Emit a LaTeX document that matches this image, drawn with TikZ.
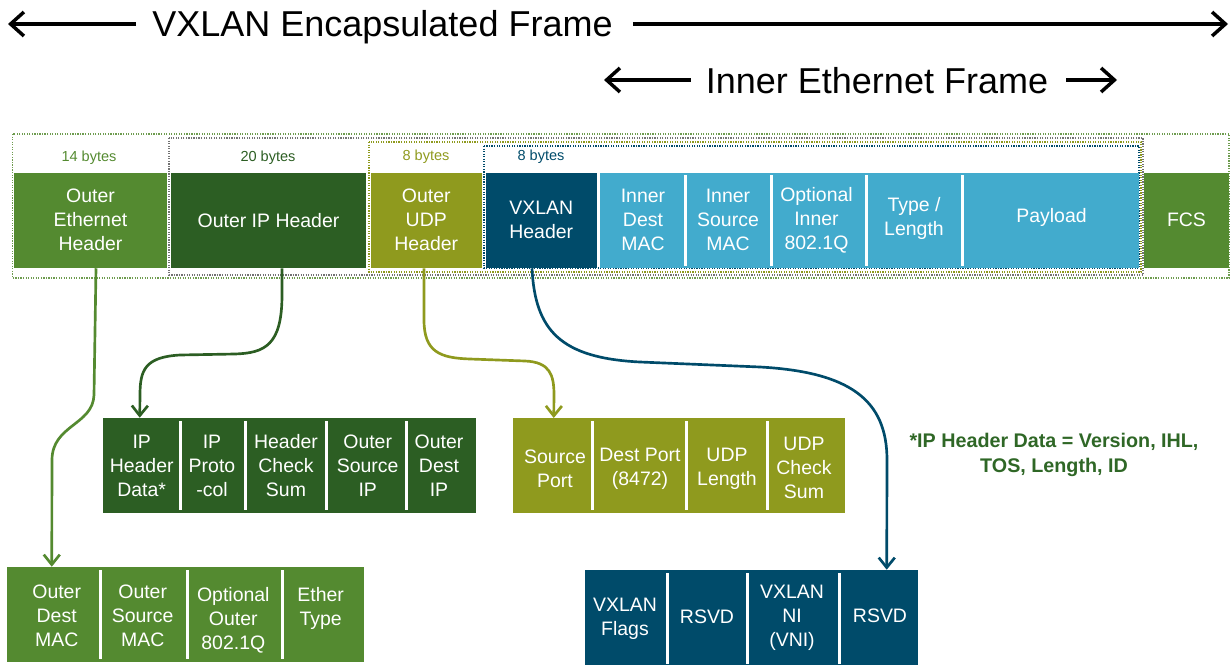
\documentclass[tikz,border=0pt]{standalone}
\usepackage{fontspec}
\setmainfont{Liberation Sans}
\usetikzlibrary{arrows.meta,calc}
\definecolor{ogreen}{RGB}{84,138,48}
\definecolor{dgreen}{RGB}{44,94,35}
\definecolor{olive}{RGB}{143,154,30}
\definecolor{dblue}{RGB}{0,75,106}
\definecolor{lblue}{RGB}{66,171,205}
\definecolor{fnote}{RGB}{47,103,38}
\begin{document}
\begin{tikzpicture}[x=0.75pt,y=-0.75pt,
  hdr/.style={inner sep=0, minimum height=71.6pt, text=white, font=\fontsize{14.6}{18}\selectfont, align=center},
  fld/.style={text=white, font=\fontsize{14.6}{18}\selectfont, align=center, inner sep=0},
  lbox/.style={inner sep=0, minimum height=71.25pt},
  sep/.style={white, line width=2.25pt},
  bytes/.style={font=\fontsize{10.9}{12}\selectfont, inner sep=0},
  frame/.style={densely dotted, line width=0.9pt},
  conn/.style={line width=2pt, -{Straight Barb[length=7.5pt,width=12pt]}},
  bigarrow/.style={line width=2.6pt, -{Straight Barb[length=10pt,width=18pt]}},
  title/.style={font=\fontsize{27}{30}\selectfont, inner sep=0}]
\useasboundingbox (0,0) rectangle (1231,664);

% titles
\node[title, anchor=base] (enc) at (382.5,36) {VXLAN Encapsulated Frame};
\node[title, anchor=base] (inn) at (877,93) {Inner Ethernet Frame};
\coordinate (encL) at (8,24); \coordinate (encR) at (1228,24);
\draw[bigarrow] ($(enc.west|-encL)+(-16,0)$) -- (encL);
\draw[bigarrow] ($(enc.east|-encR)+(20,0)$) -- (encR);
\coordinate (innL) at (604,80); \coordinate (innR) at (1117,80);
\draw[bigarrow] ($(inn.west|-innL)+(-15,0)$) -- (innL);
\draw[bigarrow] ($(inn.east|-innR)+(18,0)$) -- (innR);

% dotted frames
\draw[frame, ogreen!85] (12.5,134) rectangle (1229,278);
\draw[frame, black!55] (169,138) rectangle (1143,275);
\draw[frame, olive] (369,142) rectangle (1141,272);
\draw[frame, dblue] (484,146) rectangle (1139,268);

% byte labels
\node[bytes, text=ogreen] (b14) at (89,158) {14 bytes};
\node[bytes, text=dgreen] (b20) at (268,158) {20 bytes};
\node[bytes, text=olive] (b8u) at (426,157) {8 bytes};
\node[bytes, text=dblue] (b8v) at (541,156.5) {8 bytes};

% top row
\node[hdr, fill=ogreen, minimum width=114.75pt] (oeh) at (90.5,220.25) {Outer\\Ethernet\\Header};
\node[hdr, fill=dgreen, minimum width=146.25pt] (oip) at (268.5,220.25) {Outer IP Header};
\node[hdr, fill=olive, minimum width=83.6pt] (oudp) at (426.25,220.25) {Outer\\UDP\\Header};
\node[hdr, fill=dblue, minimum width=83.6pt] (vxh) at (541.25,220.25) {VXLAN\\Header};
\node[hdr, fill=lblue, minimum width=403.9pt] (inner) at (869.75,220.25) {};
\node[hdr, fill=ogreen, minimum width=63.75pt] (fcs) at (1186.5,220.25) {FCS};
\foreach \x in {685.7,771,866.8,962} \draw[sep] (\x,175) -- (\x,266);
\node[fld] (idm) at (643,219.5) {Inner\\Dest\\MAC};
\node[fld] (ism) at (728,219.5) {Inner\\Source\\MAC};
\node[fld] (oiq) at (816.5,220) {Optional\\Inner\\802.1Q};
\node[fld] (tl) at (914,218.5) {Type /\\Length};
\node[fld] (pl) at (1051.5,217.3) {Payload};

% lower IP box
\node[lbox, fill=dgreen, minimum width=279.4pt] (lip) at (289.75,465.5) {};
\foreach \x in {180,245,326,406} \draw[sep] (\x,421) -- (\x,510);
\node[fld] (ihd) at (141.7,466) {IP\\Header\\Data*};
\node[fld] (ipp) at (212,466) {IP\\Proto\\-col};
\node[fld] (hcs) at (286,466) {Header\\Check\\Sum};
\node[fld] (osi) at (367.7,466) {Outer\\Source\\IP};
\node[fld] (odi) at (439,466) {Outer\\Dest\\IP};

% lower Ethernet box
\node[lbox, fill=ogreen, minimum width=267.5pt] (loe) at (185.65,614.5) {};
\foreach \x in {100,187.7,282.3} \draw[sep] (\x,570) -- (\x,659);
\node[fld] (odm) at (56.7,616) {Outer\\Dest\\MAC};
\node[fld] (osm) at (142.7,616) {Outer\\Source\\MAC};
\node[fld] (ooq) at (233.3,620.4) {Optional\\Outer\\802.1Q};
\node[fld] (etp) at (320.7,608.7) {Ether\\Type};

% lower UDP box
\node[lbox, fill=olive, minimum width=249.3pt] (ludp) at (678.8,465.8) {};
\foreach \x in {592.3,686.5,767} \draw[sep] (\x,421) -- (\x,510);
\node[fld] (sp) at (555,469) {Source\\Port};
\node[fld] (dp) at (640,469) {Dest Port\\(8472)};
\node[fld] (ul) at (727,469) {UDP\\Length};
\node[fld] (ucs) at (804,467.4) {UDP\\Check\\Sum};

% lower VXLAN box
\node[lbox, fill=dblue, minimum width=249.7pt, minimum height=72pt] (lvx) at (751.75,618) {};
\foreach \x in {667.8,747.6,839} \draw[sep] (\x,573) -- (\x,664);
\node[fld] (vf) at (625,618.4) {VXLAN\\Flags};
\node[fld] (rs1) at (707,616.7) {RSVD};
\node[fld] (vni) at (792,618.3) {VXLAN\\NI\\(VNI)};
\node[fld] (rs2) at (880,616) {RSVD};

% footnote
\node[font=\bfseries\fontsize{14.8}{18.75}\selectfont, text=fnote, align=center, inner sep=0] (fn) at (1054,455) {*IP Header Data = Version, IHL,\\TOS, Length, ID};

% connectors
\draw[conn, ogreen] ($(oeh.south)+(5.5,0)$) -- (94,395) .. controls (93,425) and (52,425) .. (52,460) -- ($(loe.north west)+(44.7,0)$);
\draw[conn, dgreen] ($(oip.south)+(13.5,0)$) -- (282,295) .. controls (282,345) and (265,353) .. (235,354) -- (180,355) .. controls (145,357) and (140,370) .. (140,395) -- ($(lip.north west)+(36.5,0)$);
\draw[conn, olive] ($(oudp.south)+(-2.25,0)$) -- (424,320) .. controls (424,352) and (440,358) .. (470,359) -- (525,361) .. controls (550,362) and (554,375) .. (554,395) -- ($(ludp.north west)+(41.4,0)$);
\draw[conn, dblue] ($(vxh.south)+(-9.25,0)$) .. controls (535,330) and (560,358) .. (640,362) -- (760,367) .. controls (850,372) and (887,400) .. (887,460) -- ($(lvx.north west)+(301.7,0)$);
\end{tikzpicture}
\end{document}
